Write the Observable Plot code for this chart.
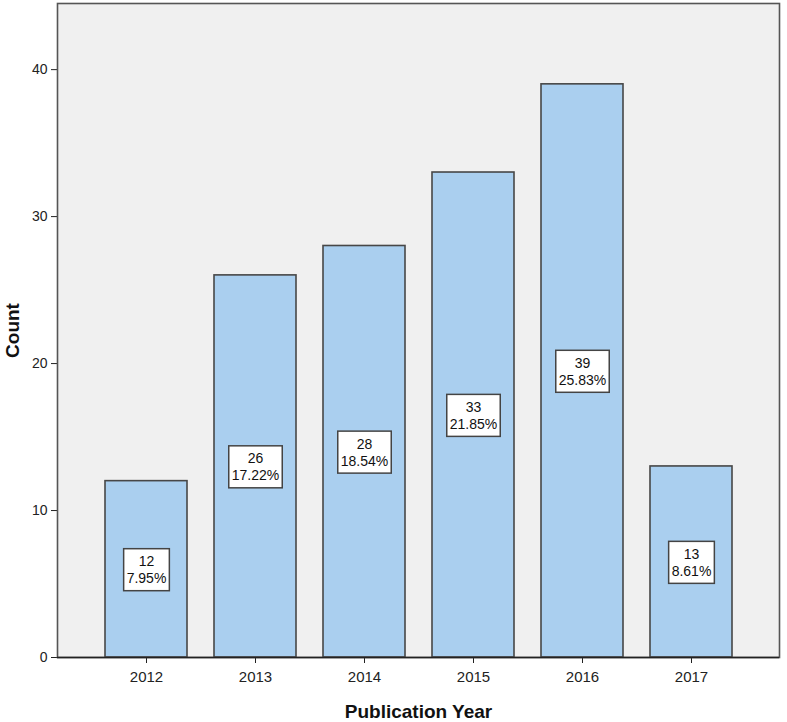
<!DOCTYPE html>
<html>
<head>
<meta charset="utf-8">
<script src="https://cdn.jsdelivr.net/npm/d3@7"></script>
<script src="https://cdn.jsdelivr.net/npm/@observablehq/plot@0.6"></script>
<style>
  html, body { margin: 0; padding: 0; background: #ffffff; }
  #chart svg { display: block; font-family: "Liberation Sans", Arial, sans-serif; }
</style>
</head>
<body>
<div id="chart"></div>
<script>
const years = ["2012", "2013", "2014", "2015", "2016", "2017"];
const counts = [12, 26, 28, 33, 39, 13];
const percents = ["7.95%", "17.22%", "18.54%", "21.85%", "25.83%", "8.61%"];
const yTicks = [0, 10, 20, 30, 40];
const xTitle = "Publication Year";
const yTitle = "Count";

const data = years.map((year, i) => ({ year, count: counts[i], pct: percents[i] }));

const plot = Plot.plot({
  width: 787,
  height: 722,
  marginLeft: 57,
  marginRight: 8,
  marginTop: 3,
  marginBottom: 65,
  style: { fontFamily: "'Liberation Sans', Arial, sans-serif", fontSize: "14px", color: "#222", background: "#ffffff" },
  x: { domain: years, paddingInner: 0.25, paddingOuter: 0.42, label: null },
  y: { domain: [0, 44.5], label: null },
  marks: [
    Plot.frame({ fill: "#f0f0f0" }),
    Plot.barY(data, { x: "year", y: "count", fill: "#aacfef", stroke: "#474747", strokeWidth: 1.6 }),
    Plot.text(data, {
      x: "year",
      y: d => d.count / 2,
      text: d => `${d.count}\n${d.pct}`,
      lineAnchor: "middle",
      lineHeight: 1.2,
      fontSize: 14,
      fill: "#111"
    }),
    Plot.axisY({ ticks: yTicks, tickSize: 6, tickPadding: 4, fontSize: 14, label: null, stroke: "#222" }),
    Plot.axisX({ tickSize: 6, tickPadding: 8, fontSize: 15, label: null, stroke: "#222" }),
    Plot.frame({ stroke: "#555", strokeWidth: 1.6 }),
    Plot.ruleY([0], { stroke: "#222", strokeWidth: 1.4 }),
    Plot.text([yTitle], { frameAnchor: "left", text: d => d, rotate: -90, dx: -45, textAnchor: "middle", lineAnchor: "middle", fontSize: 19, fontWeight: "bold", fill: "#111" }),
    Plot.text([xTitle], { frameAnchor: "bottom", text: d => d, dy: 54, textAnchor: "middle", lineAnchor: "middle", fontSize: 19, fontWeight: "bold", fill: "#111" })
  ]
});

document.getElementById("chart").appendChild(plot);

// white label boxes behind the bar labels (first text mark group = bar labels)
const labelGroup = plot.querySelector('g[aria-label="text"]');
if (labelGroup) {
  Array.from(labelGroup.querySelectorAll("text")).forEach(t => {
    const bb = t.getBBox();
    const w = bb.width + 6;
    const h = 42;
    const cx = bb.x + bb.width / 2;
    const cy = bb.y + bb.height / 2;
    const r = document.createElementNS("http://www.w3.org/2000/svg", "rect");
    r.setAttribute("x", cx - w / 2);
    r.setAttribute("y", cy - h / 2);
    r.setAttribute("width", w);
    r.setAttribute("height", h);
    r.setAttribute("fill", "#ffffff");
    r.setAttribute("stroke", "#444");
    r.setAttribute("stroke-width", "1.5");
    const tr = t.getAttribute("transform");
    if (tr) r.setAttribute("transform", tr);
    t.parentNode.insertBefore(r, t);
  });
}
</script>
</body>
</html>
